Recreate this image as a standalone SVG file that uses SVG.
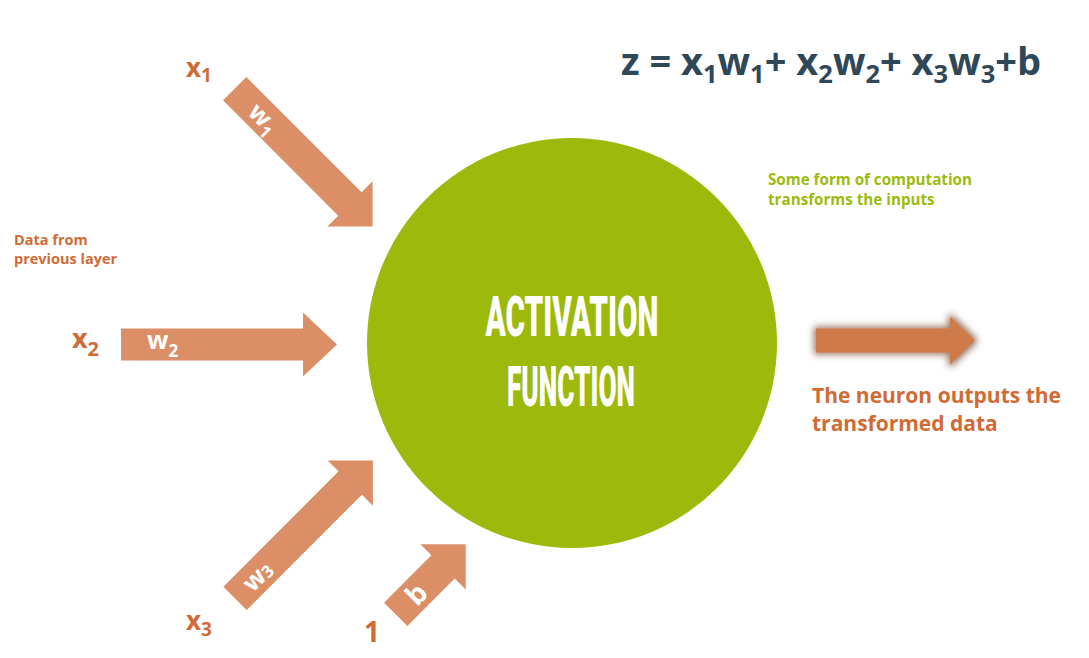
<svg xmlns="http://www.w3.org/2000/svg" width="1089" height="658" viewBox="0 0 1089 658">
<defs>
<style>
.in{fill:#DC8E66}
.lbl{font-family:"Open Sans","Liberation Sans",sans-serif;font-weight:700}
.or{fill:#D06B36}
.wh{fill:#FFFFFF}
.act{font-family:Roboto,"Liberation Sans",sans-serif;font-weight:900;fill:#FFFFFF;font-size:55px}
</style>
<filter id="glow" x="-20%" y="-40%" width="140%" height="180%">
<feMorphology in="SourceAlpha" operator="dilate" radius="2" result="d"/>
<feGaussianBlur in="d" stdDeviation="3.5" result="b"/>
<feFlood flood-color="#7A4A33" flood-opacity="0.75"/>
<feComposite in2="b" operator="in" result="s"/>
<feMerge><feMergeNode in="s"/><feMergeNode in="SourceGraphic"/></feMerge>
</filter>
</defs>
<rect width="1089" height="658" fill="#FFFFFF"/>

<g id="neuron">
<circle cx="572" cy="343" r="205" fill="#9DB90B"/>
<text class="act" x="572" y="336" text-anchor="middle" textLength="173" lengthAdjust="spacingAndGlyphs">ACTIVATION</text>
<text class="act" x="571" y="406" text-anchor="middle" textLength="128" lengthAdjust="spacingAndGlyphs">FUNCTION</text>
</g>

<g id="connectors">
<g id="arrow-w1" transform="translate(234.7,88.7) rotate(45)">
<polygon class="in" points="0,-16.5 163,-16.5 163,-32 195,0 163,32 163,16.5 0,16.5"/>
<text class="lbl wh" x="26" y="9" font-size="25">w<tspan font-size="17" dy="6">1</tspan></text>
</g>
<g id="arrow-w2" transform="translate(121,344.5)">
<polygon class="in" points="0,-16 182,-16 182,-32 216,0 182,32 182,16 0,16"/>
<text class="lbl wh" x="26" y="4" font-size="25">w<tspan font-size="17" dy="8">2</tspan></text>
</g>
<g id="arrow-w3" transform="translate(235,598.3) rotate(-45)">
<polygon class="in" points="0,-16.5 163,-16.5 163,-32 195,0 163,32 163,16.5 0,16.5"/>
<text class="lbl wh" x="16" y="9" font-size="25">w<tspan font-size="17" dy="1">3</tspan></text>
</g>
<g id="arrow-b" transform="translate(395.7,614.3) rotate(-45)">
<polygon class="in" points="0,-16.5 67,-16.5 67,-32 99,0 67,32 67,16.5 0,16.5"/>
<text class="lbl wh" x="20" y="10" font-size="28">b</text>
</g>
<g id="arrow-out" filter="url(#glow)">
<polygon fill="#CF7A4A" points="816,328.5 950,328.5 950,316.5 975,340.5 950,364.5 950,352.5 816,352.5"/>
</g>
</g>

<g id="input-x1"><text class="lbl or" x="186" y="77" font-size="26">x<tspan font-size="19" dy="5">1</tspan></text></g>
<g id="input-x2"><text class="lbl or" x="72" y="348" font-size="27">x<tspan font-size="20" dy="8">2</tspan></text></g>
<g id="input-x3"><text class="lbl or" x="186" y="630" font-size="26">x<tspan font-size="19" dy="6">3</tspan></text></g>
<g id="input-1"><text class="lbl or" x="364" y="642" font-size="28">1</text></g>

<g id="note-data"><text class="lbl or" font-size="14.5"><tspan x="14" y="245">Data from</tspan><tspan x="14" y="264">previous layer</tspan></text></g>

<g id="note-computation"><text class="lbl" fill="#9DBA0E" font-size="15.2"><tspan x="768" y="185">Some form of computation</tspan><tspan x="768" y="205">transforms the inputs</tspan></text></g>

<g id="note-output"><text class="lbl or" font-size="21"><tspan x="812" y="403">The neuron outputs the</tspan><tspan x="812" y="431">transformed data</tspan></text></g>

<g id="equation"><text class="lbl" fill="#2F4859" font-size="38" x="621" y="75">z = x<tspan font-size="25.5" dy="8">1</tspan><tspan dy="-8">w</tspan><tspan font-size="25.5" dy="8">1</tspan><tspan dy="-8">+ x</tspan><tspan font-size="25.5" dy="8">2</tspan><tspan dy="-8">w</tspan><tspan font-size="25.5" dy="8">2</tspan><tspan dy="-8">+ x</tspan><tspan font-size="25.5" dy="8">3</tspan><tspan dy="-8">w</tspan><tspan font-size="25.5" dy="8">3</tspan><tspan dy="-8">+b</tspan></text></g>
</svg>
